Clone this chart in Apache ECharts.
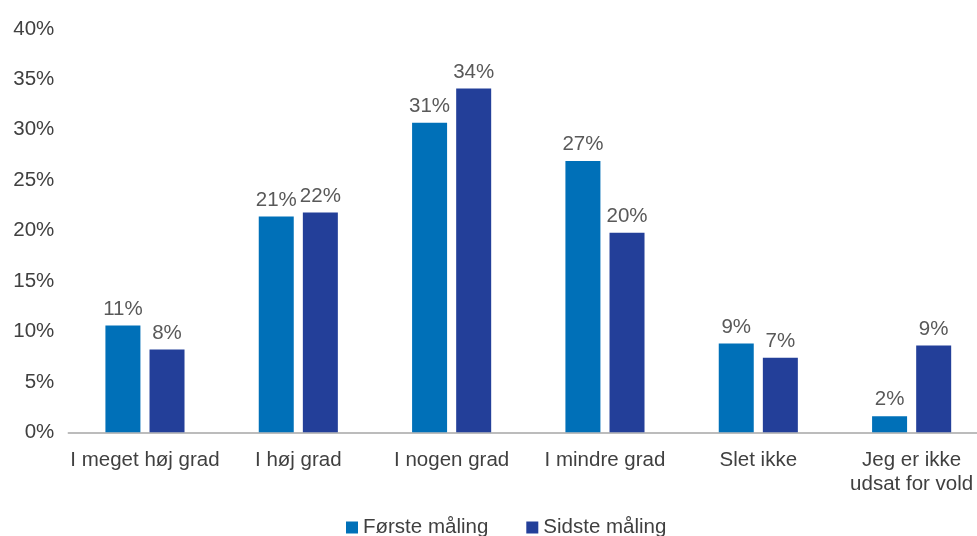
<!DOCTYPE html>
<html><head><meta charset="utf-8">
<script src="https://cdn.jsdelivr.net/npm/echarts@6/dist/echarts.min.js"></script>
<style>html,body{margin:0;padding:0;background:#fff}#c{width:977px;height:536px}</style>
</head><body><div id="c"></div>
<script>
const categories = ['I meget høj grad','I høj grad','I nogen grad','I mindre grad','Slet ikke','Jeg er ikke\nudsat for vold'];
const seriesNames = ['Første måling','Sidste måling'];
const forste = [10.6, 21.4, 30.7, 26.9, 8.8, 1.6];
const sidste = [8.2, 21.8, 34.1, 19.8, 7.4, 8.6];
const yTicks = [0,5,10,15,20,25,30,35,40];

const font = 'Liberation Sans, Arial, sans-serif';
const fs = 20.5;
const chart = echarts.init(document.getElementById('c'), null, {renderer:'canvas'});
const lbl = {show:true, position:'top', distance:6, fontFamily:font, fontSize:fs, color:'#595959',
  formatter: p => Math.round(p.value) + '%'};
chart.setOption({
  animation:false,
  grid:{left:68.3, width:920, top:29, height:403.3, containLabel:false, outerBoundsMode:'none'},
  legend:{top:512, left:341, itemWidth:12, itemHeight:12, itemGap:38, icon:'rect',
    textStyle:{fontFamily:font, fontSize:fs, color:'#404040'}, data:seriesNames},
  xAxis:{type:'category', data:categories,
    axisLine:{lineStyle:{color:'#a6a6a6', width:1.5}}, axisTick:{show:false},
    axisLabel:{fontFamily:font, fontSize:fs, color:'#404040', margin:16, lineHeight:24, interval:0}},
  yAxis:{type:'value', min:yTicks[0], max:yTicks[yTicks.length-1], interval:5,
    splitLine:{show:false}, axisLine:{show:false}, axisTick:{show:false},
    axisLabel:{fontFamily:font, fontSize:fs, color:'#404040', margin:14, formatter:v=>v+'%'}},
  series:[
    {name:seriesNames[0], type:'bar', data:forste, barWidth:35, barGap:'26%', itemStyle:{color:'#0070B8'}, label:lbl},
    {name:seriesNames[1], type:'bar', data:sidste, barWidth:35, itemStyle:{color:'#233F99'}, label:lbl}
  ]
});
</script></body></html>
